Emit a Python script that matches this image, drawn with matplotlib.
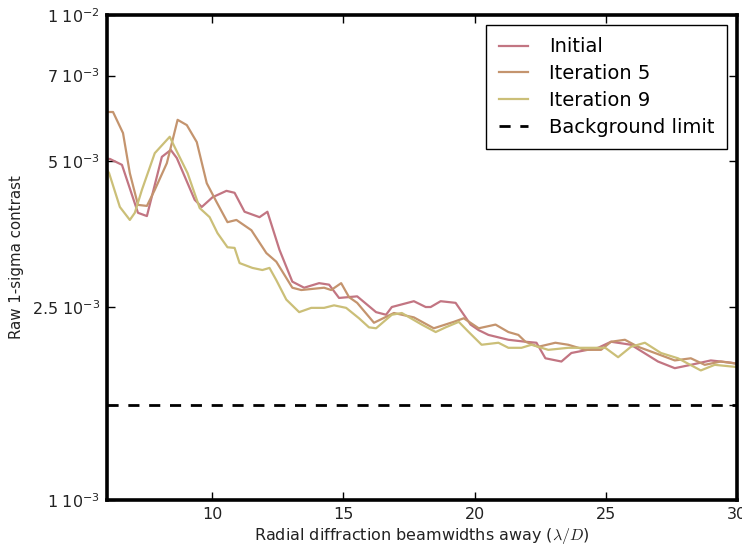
import matplotlib
matplotlib.use("Agg")
import matplotlib.pyplot as plt
from matplotlib.ticker import FixedLocator, NullLocator

plt.rcParams["mathtext.fontset"] = "cm"

# radial separation (lambda/D) and raw 1-sigma contrast
x_initial = [6.0, 6.11, 6.57, 7.18, 7.52, 8.09, 8.43, 8.66, 9.34, 9.61, 10.02, 10.55,
             10.86, 11.24, 11.81, 12.11, 12.57, 13.06, 13.51, 14.08, 14.46, 14.84,
             15.53, 16.25, 16.63, 16.85, 17.69, 18.14, 18.33, 18.71, 19.28, 19.85,
             20.16, 20.53, 21.29, 21.94, 22.36, 22.70, 23.31, 23.69, 24.71, 25.20,
             25.96, 26.99, 27.63, 28.24, 29.00, 29.76, 30.0]
c_initial = [5.05, 5.05, 4.91, 3.91, 3.85, 5.10, 5.27, 5.07, 4.16, 4.02, 4.21, 4.34,
             4.30, 3.93, 3.83, 3.93, 3.28, 2.82, 2.74, 2.80, 2.78, 2.61,
             2.63, 2.44, 2.41, 2.50, 2.57, 2.50, 2.50, 2.57, 2.55, 2.30,
             2.24, 2.19, 2.14, 2.12, 2.11, 1.96, 1.93, 2.01, 2.06, 2.12,
             2.09, 1.93, 1.87, 1.90, 1.94, 1.92, 1.91]

x_iter5 = [6.0, 6.23, 6.61, 6.87, 7.18, 7.52, 7.82, 8.28, 8.69, 9.04, 9.42, 9.80,
           10.17, 10.59, 10.93, 11.50, 12.07, 12.45, 13.06, 13.40, 14.27, 14.54,
           14.92, 15.22, 15.53, 16.17, 16.93, 17.69, 18.45, 19.21, 19.59, 20.16,
           20.80, 21.29, 21.67, 21.94, 22.43, 23.08, 23.57, 24.22, 24.82, 25.20,
           25.73, 26.23, 26.87, 27.63, 28.24, 28.77, 29.38, 30.0]
c_iter5 = [6.31, 6.31, 5.71, 4.72, 4.06, 4.04, 4.36, 4.95, 6.08, 5.93, 5.47, 4.50,
           4.12, 3.74, 3.78, 3.60, 3.23, 3.10, 2.74, 2.71, 2.74, 2.71,
           2.80, 2.62, 2.55, 2.32, 2.43, 2.38, 2.26, 2.33, 2.37, 2.26,
           2.30, 2.22, 2.19, 2.12, 2.07, 2.11, 2.09, 2.04, 2.04, 2.12,
           2.14, 2.07, 2.01, 1.94, 1.96, 1.90, 1.93, 1.91]

x_iter9 = [6.0, 6.08, 6.49, 6.87, 7.06, 7.33, 7.82, 8.39, 8.58, 9.07, 9.53, 9.91,
           10.21, 10.59, 10.86, 11.05, 11.54, 11.92, 12.19, 12.45, 12.83, 13.32,
           13.78, 14.27, 14.65, 15.11, 15.60, 15.98, 16.25, 16.85, 17.23, 17.99,
           18.52, 18.90, 19.40, 19.78, 20.27, 20.91, 21.29, 21.79, 22.17, 22.81,
           23.57, 24.22, 24.98, 25.47, 25.96, 26.49, 27.10, 27.75, 28.62, 29.15,
           30.0]
c_iter9 = [4.80, 4.72, 4.02, 3.78, 3.91, 4.36, 5.19, 5.61, 5.34, 4.72, 4.00, 3.83,
           3.55, 3.32, 3.31, 3.08, 3.01, 2.98, 3.01, 2.84, 2.59, 2.44,
           2.49, 2.49, 2.52, 2.49, 2.37, 2.27, 2.26, 2.41, 2.43, 2.30,
           2.22, 2.27, 2.33, 2.22, 2.09, 2.11, 2.06, 2.06, 2.09, 2.04,
           2.06, 2.06, 2.06, 1.97, 2.07, 2.11, 2.01, 1.96, 1.85, 1.90,
           1.88]

background_limit = 1.57e-3

ytick_vals = [1e-3, background_limit, 2.5e-3, 5e-3, 7.5e-3, 1e-2]
ytick_labels = [r"$\mathdefault{1\ 10^{-3}}$", "", r"$\mathdefault{2.5\ 10^{-3}}$",
                r"$\mathdefault{5\ 10^{-3}}$", r"$\mathdefault{7\ 10^{-3}}$",
                r"$\mathdefault{1\ 10^{-2}}$"]
xtick_vals = [10, 15, 20, 25, 30]

series = [
    ("Initial", x_initial, c_initial, "#c27582"),
    ("Iteration 5", x_iter5, c_iter5, "#c4946e"),
    ("Iteration 9", x_iter9, c_iter9, "#cbbf78"),
]

fig = plt.figure(figsize=(7.42, 5.46), dpi=100)
ax = fig.add_axes([0.1442, 0.0842, 0.8491, 0.8883])

for name, xs, cs, col in series:
    ax.plot(xs, [c * 1e-3 for c in cs], color=col, lw=1.6, label=name)
ax.axhline(background_limit, color="black", ls="--", lw=2, dashes=(4, 3.5),
           label="Background limit")

ax.set_yscale("log")
ax.set_xlim(6, 30)
ax.set_ylim(1e-3, 1e-2)
ax.yaxis.set_major_locator(FixedLocator(ytick_vals))
ax.yaxis.set_minor_locator(NullLocator())
ax.set_yticklabels(ytick_labels)
ax.set_xticks(xtick_vals)

ax.tick_params(direction="in", length=6, width=1, top=True, right=True,
               labelsize=11.5, pad=5, labelcolor="#222222")
for sp in ax.spines.values():
    sp.set_linewidth(2.6)

ax.set_xlabel(r"Radial diffraction beamwidths away ($\lambda/D$)", fontsize=11.5,
              color="#222222", labelpad=3)
ax.set_ylabel("Raw 1-sigma contrast", fontsize=10.8, color="#222222", labelpad=6)

leg = ax.legend(loc="upper right", fontsize=14, handlelength=1.5,
                labelspacing=0.4, borderpad=0.65, handletextpad=1.1,
                fancybox=False, framealpha=1, borderaxespad=0.5)
leg.get_frame().set_edgecolor("black")
leg.get_frame().set_linewidth(1)

fig.savefig("out.png", dpi=100)
